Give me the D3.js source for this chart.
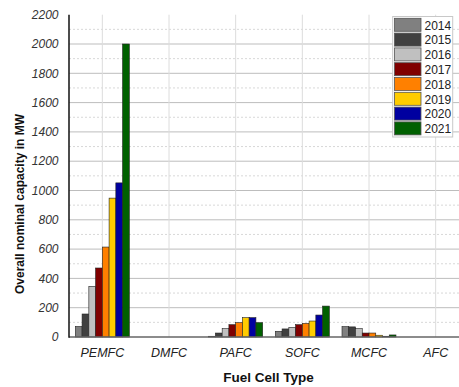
<!DOCTYPE html>
<html>
<head>
<meta charset="utf-8">
<script src="https://cdn.jsdelivr.net/npm/d3@7"></script>
<style>
  html, body { margin: 0; padding: 0; background: #fff; }
  svg { display: block; font-family: "Liberation Sans", Arial, sans-serif; }
</style>
</head>
<body>
<svg id="chart" width="459" height="387"></svg>
<script>
const categories = ["PEMFC", "DMFC", "PAFC", "SOFC", "MCFC", "AFC"];
const years = ["2014", "2015", "2016", "2017", "2018", "2019", "2020", "2021"];
const colors = ["#808080", "#404040", "#c0c0c0", "#800000", "#ff8000", "#ffcc00", "#0000a0", "#006000"];
// values per year, in category order
const v2014 = [72, 0, 5, 39, 71, 0];
const v2015 = [157, 0, 27, 55, 69, 0];
const v2016 = [346, 0, 57, 66, 57, 0];
const v2017 = [471, 0, 84, 84, 27, 0];
const v2018 = [614, 0, 98, 93, 27, 0];
const v2019 = [948, 0, 132, 109, 12, 0];
const v2020 = [1052, 0, 132, 150, 5, 0];
const v2021 = [2000, 0, 98, 211, 14, 0];
const series = [v2014, v2015, v2016, v2017, v2018, v2019, v2020, v2021];
const yTicks = [0, 200, 400, 600, 800, 1000, 1200, 1400, 1600, 1800, 2000, 2200];

const svg = d3.select("#chart");
const L = 69, R = 469, T = 14.7, B = 337;

const x = d3.scaleBand().domain(categories).range([L, R]).paddingInner(0.19).paddingOuter(0.095);
const xi = d3.scaleBand().domain(years).range([0, x.bandwidth()]);
const y = d3.scaleLinear().domain([0, 2200]).range([B, T]);

// minor grid (dashed)
const minor = d3.range(100, 2200, 200);
svg.append("g").selectAll("line").data(minor).join("line")
  .attr("x1", L).attr("x2", 459)
  .attr("y1", d => y(d)).attr("y2", d => y(d))
  .attr("stroke", "#d8d8d8").attr("stroke-width", 1).attr("stroke-dasharray", "2,2");
// major grid
svg.append("g").selectAll("line").data(yTicks.filter(d => d > 0 && d < 2200)).join("line")
  .attr("x1", L).attr("x2", 459)
  .attr("y1", d => y(d)).attr("y2", d => y(d))
  .attr("stroke", "#bdbdbd").attr("stroke-width", 1);
// vertical grid
svg.append("g").selectAll("line").data(categories).join("line")
  .attr("x1", d => x(d) + x.bandwidth() / 2).attr("x2", d => x(d) + x.bandwidth() / 2)
  .attr("y1", T).attr("y2", B)
  .attr("stroke", "#dcdcdc").attr("stroke-width", 1);

// bars
const flat = [];
categories.forEach((c, ci) => years.forEach((yr, yi) => flat.push({ c, yr, yi, v: series[yi][ci] })));
svg.append("g").selectAll("rect").data(flat.filter(d => d.v > 0)).join("rect")
  .attr("x", d => x(d.c) + xi(d.yr))
  .attr("width", xi.bandwidth())
  .attr("y", d => y(d.v))
  .attr("height", d => B - y(d.v))
  .attr("fill", d => colors[d.yi])
  .attr("stroke", "#222").attr("stroke-width", 0.6);

// axes lines
svg.append("line").attr("x1", L).attr("x2", 459).attr("y1", B).attr("y2", B)
  .attr("stroke", "#666").attr("stroke-width", 1.5);
svg.append("line").attr("x1", L).attr("x2", L).attr("y1", T).attr("y2", B + 0.75)
  .attr("stroke", "#111").attr("stroke-width", 1.5);

// y tick labels
svg.append("g").selectAll("text").data(yTicks).join("text")
  .attr("x", 58.5).attr("y", d => y(d)).attr("dy", "0.35em")
  .attr("text-anchor", "end").attr("font-size", 12).attr("font-style", "italic")
  .attr("fill", "#333").text(d => d);

// x labels
svg.append("g").selectAll("text").data(categories).join("text")
  .attr("x", d => x(d) + x.bandwidth() / 2).attr("y", 357)
  .attr("text-anchor", "middle").attr("font-size", 12.5).attr("font-style", "italic")
  .attr("fill", "#222").text(d => d);

// axis titles
svg.append("text").attr("x", 268.5).attr("y", 382).attr("text-anchor", "middle")
  .attr("font-size", 13.5).attr("font-weight", "bold").attr("fill", "#111").text("Fuel Cell Type");
svg.append("text").attr("transform", "translate(24,204) rotate(-90)").attr("text-anchor", "middle")
  .attr("font-size", 12).attr("font-weight", "bold").attr("fill", "#111").text("Overall nominal capacity in MW");

// legend
const lg = svg.append("g");
lg.append("rect").attr("x", 392.7).attr("y", 16.5).attr("width", 60).attr("height", 120.5)
  .attr("fill", "#fff").attr("stroke", "#c8c8c8").attr("stroke-width", 1);
const items = lg.selectAll("g").data(years).join("g")
  .attr("transform", (d, i) => `translate(394.5,${18.3 + i * 14.8})`);
items.append("rect").attr("width", 26.5).attr("height", 13)
  .attr("fill", (d, i) => colors[i]).attr("stroke", "#555").attr("stroke-width", 0.8);
items.append("text").attr("x", 30).attr("y", 11.3).attr("font-size", 12)
  .attr("fill", "#222").text(d => d);
</script>
</body>
</html>
